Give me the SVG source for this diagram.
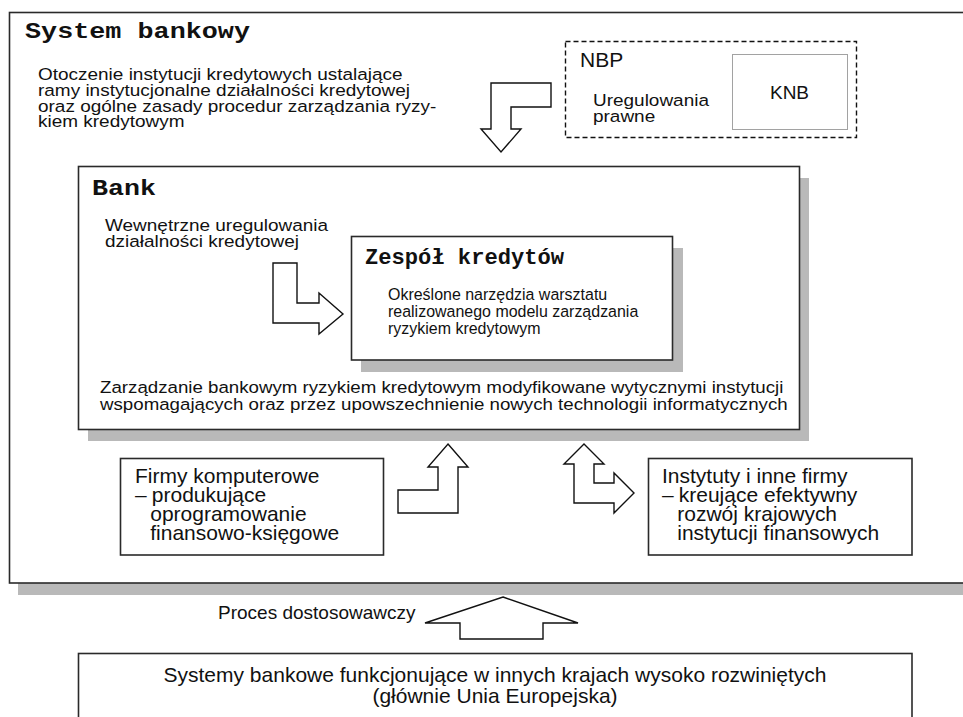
<svg xmlns="http://www.w3.org/2000/svg" width="963" height="717" viewBox="0 0 963 717">
<style>
.box{fill:#fff;stroke:#2a2a2a;stroke-width:1.6}
.shadow{fill:#b9b9b9}
.t{font-family:"Liberation Sans",Arial,sans-serif;fill:#111}
.mono{font-family:"Liberation Mono","Courier New",monospace;font-weight:bold;fill:#111}
.arrow{fill:#fff;stroke:#111;stroke-width:1.4;stroke-linejoin:miter}
</style>
<rect width="963" height="717" fill="#fff"/>
<g id="system-bankowy">
<rect class="shadow" x="18" y="24" width="960" height="571"/>
<rect class="box" x="9.5" y="12.5" width="965" height="570.5" stroke="#3c3c3c" stroke-width="2"/>
<text class="mono" x="25" y="38" font-size="22" textLength="225" lengthAdjust="spacingAndGlyphs">System bankowy</text>
<text class="t" font-size="16.5" transform="translate(38 0) scale(1.15 1)">
<tspan x="0" y="80">Otoczenie instytucji kredytowych ustalające</tspan>
<tspan x="0" y="96">ramy instytucjonalne działalności kredytowej</tspan>
<tspan x="0" y="112">oraz ogólne zasady procedur zarządzania ryzy-</tspan>
<tspan x="0" y="127.5">kiem kredytowym</tspan>
</text>
</g>
<g id="nbp">
<rect x="565.5" y="41.5" width="291" height="96" fill="none" stroke="#111" stroke-width="1.4" stroke-dasharray="5 3"/>
<text class="t" x="580" y="67" font-size="21">NBP</text>
<text class="t" font-size="16.5" transform="translate(593 0) scale(1.15 1)"><tspan x="0" y="106">Uregulowania</tspan><tspan x="0" y="122">prawne</tspan></text>
</g>
<g id="knb">
<rect x="732.5" y="54.5" width="115" height="75" fill="none" stroke="#444" stroke-width="1" stroke-dasharray="1 1"/>
<text class="t" x="789.5" y="99" font-size="19" text-anchor="middle">KNB</text>
</g>
<g id="bank">
<rect class="shadow" x="88" y="178" width="721" height="263"/>
<rect class="box" x="78.5" y="166.5" width="721" height="263"/>
<text class="mono" x="92" y="195" font-size="22" textLength="64" lengthAdjust="spacingAndGlyphs">Bank</text>
<text class="t" font-size="16.5" transform="translate(105 0) scale(1.15 1)"><tspan x="0" y="231">Wewnętrzne uregulowania</tspan><tspan x="0" y="247">działalności kredytowej</tspan></text>
<text class="t" font-size="17" transform="translate(100 0) scale(1.1 1)"><tspan x="0" y="393">Zarządzanie bankowym ryzykiem kredytowym modyfikowane wytycznymi instytucji</tspan><tspan x="0" y="410">wspomagających oraz przez upowszechnienie nowych technologii informatycznych</tspan></text>
</g>
<g id="zespol-kredytow">
<rect class="shadow" x="361" y="248" width="322" height="124"/>
<rect class="box" x="351.5" y="236.5" width="321" height="123.5" stroke="#111"/>
<text class="mono" x="365" y="264" font-size="22" textLength="199" lengthAdjust="spacingAndGlyphs">Zespół kredytów</text>
<text class="t" font-size="17" transform="translate(388 0) scale(0.94 1)"><tspan x="0" y="300">Określone narzędzia warsztatu</tspan><tspan x="0" y="317">realizowanego modelu zarządzania</tspan><tspan x="0" y="334">ryzykiem kredytowym</tspan></text>
</g>
<g id="firmy-komputerowe">
<rect class="box" x="120.5" y="458.5" width="263" height="96.5" stroke="#222" stroke-width="1.3"/>
<text class="t" font-size="20" transform="translate(135 0) scale(1.05 1)"><tspan x="0" y="483">Firmy komputerowe</tspan><tspan x="0" y="502">–</tspan><tspan x="16" y="502">produkujące</tspan><tspan x="14.5" y="521">oprogramowanie</tspan><tspan x="14.5" y="540">finansowo-księgowe</tspan></text>
</g>
<g id="instytuty">
<rect class="box" x="648.5" y="458.5" width="263.5" height="96.5" stroke="#222" stroke-width="1.3"/>
<text class="t" font-size="20" transform="translate(662 0) scale(1.05 1)"><tspan x="0" y="483">Instytuty i inne firmy</tspan><tspan x="0" y="502">–</tspan><tspan x="16" y="502">kreujące efektywny</tspan><tspan x="14.5" y="521">rozwój krajowych</tspan><tspan x="14.5" y="540">instytucji finansowych</tspan></text>
</g>
<g id="systemy-zagraniczne">
<rect class="box" x="78.5" y="653.5" width="833.5" height="80" stroke="#222" stroke-width="1.3"/>
<text class="t" font-size="21" text-anchor="middle"><tspan x="495" y="682">Systemy bankowe funkcjonujące w innych krajach wysoko rozwiniętych</tspan><tspan x="495" y="703">(głównie Unia Europejska)</tspan></text>
</g>
<g id="connectors">
<polygon class="arrow" points="491,83 551,83 551,107 511,107 511,129 521,129 501,152 481,129 491,129"/>
<polygon class="arrow" points="273,263 297,263 297,303 319,303 319,293 343,314 319,334 319,323 273,323"/>
<polygon class="arrow" points="448,444 468,467 458,467 458,513 398,513 398,490 438,490 438,467 428,467"/>
<polygon class="arrow" points="584,444 604,464 594,464 594,483 614,483 614,473 634,493 614,513 614,503 574,503 574,464 564,464"/>
<polygon class="arrow" points="503,597 578,623 543,623 543,639 460,639 460,623 425,623"/>
<text class="t" x="218" y="619" font-size="19">Proces dostosowawczy</text>
</g>
</svg>
